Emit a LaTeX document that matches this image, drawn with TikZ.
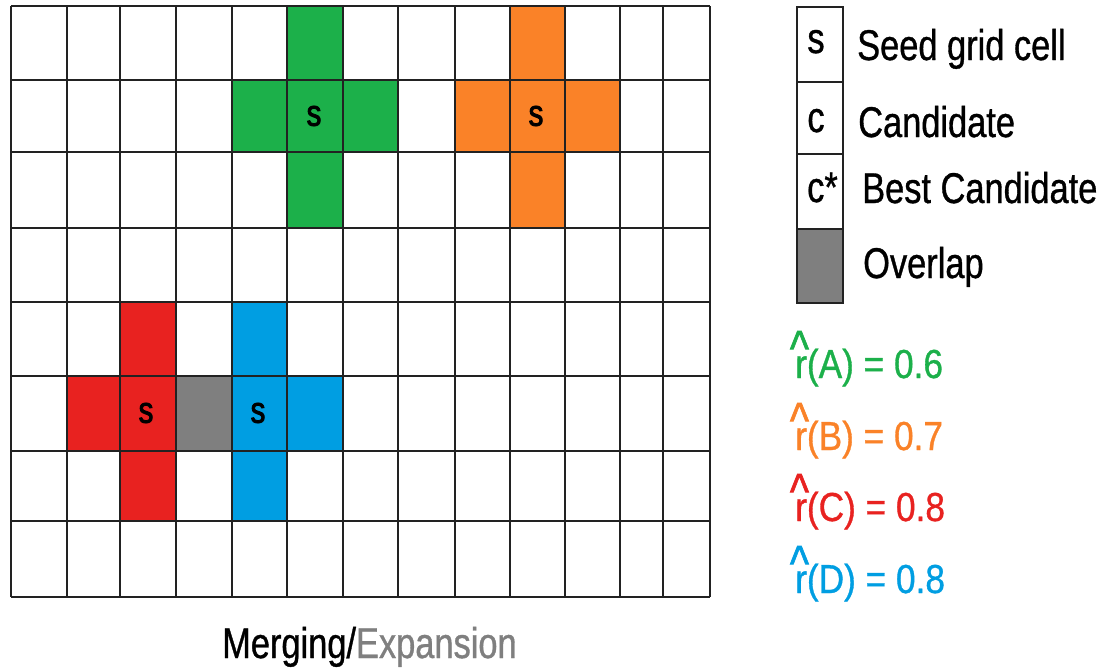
\documentclass[tikz,border=0pt]{standalone}
\usepackage{fontspec}
\usepackage{graphicx}
\setmainfont{Liberation Sans}[FakeStretch=0.8, FakeBold=0.8]
\newfontfamily\seedfont{Liberation Sans}[FakeStretch=0.8, FakeBold=2.2]
\newfontfamily\scorefont{Liberation Sans}[FakeStretch=0.87, FakeBold=0.8]
\newfontfamily\hatfont{Liberation Sans}[FakeBold=1.5]

\definecolor{regA}{HTML}{1CB04A}
\definecolor{regB}{HTML}{FA8228}
\definecolor{regC}{HTML}{E82220}
\definecolor{regD}{HTML}{009EE2}
\definecolor{overlapgrey}{HTML}{7F7F7F}
\definecolor{gridline}{HTML}{222222}

% r with a hat placed above it
\newcommand\rhat{\rlap{\makebox[\fontcharwd\font`r][c]{\kern-0.08em\raisebox{0.3em}{\scalebox{1.0}[1.25]{\hatfont\char"5E}}}}r}

\tikzset{
  gridln/.style={draw=gridline, line width=1.3pt},
  legbox/.style={draw=gridline, line width=1.3pt},
  celltxt/.style={inner sep=0pt, font=\seedfont\fontsize{37}{42}\selectfont},
  legtxt/.style={inner sep=0pt, anchor=base west, font=\fontsize{43}{48}\selectfont},
  scoretxt/.style={inner sep=0pt, anchor=base west, font=\scorefont\fontsize{40.5}{46}\selectfont},
}

\begin{document}
\begin{tikzpicture}[x=1pt,y=-1pt]
\useasboundingbox (0,0) rectangle (1102,667);
\fill[white] (0,0) rectangle (1102,667);

% region A (green)
\fill[regA] (287,6) rectangle (343,228);
\fill[regA] (232,80) rectangle (398,152);
% region B (orange)
\fill[regB] (510,6) rectangle (565,228);
\fill[regB] (455,80) rectangle (620,152);
% region C (red)
\fill[regC] (120,302) rectangle (176,521);
\fill[regC] (67,376) rectangle (176,451);
% overlapping cell
\fill[overlapgrey] (176,376) rectangle (232,451);
% region D (blue)
\fill[regD] (232,302) rectangle (287,521);
\fill[regD] (232,376) rectangle (343,451);

% grid
\foreach \gx in {11,67,120,176,232,287,343,398,455,510,565,620,663,710}
  \draw[gridln] (\gx,6) -- (\gx,597);
\foreach \gy in {6,80,152,228,302,376,451,521,597}
  \draw[gridln] (11,\gy) -- (710,\gy);

% seed labels
\node[celltxt] (seedA) at (314,116) {s};
\node[celltxt] (seedB) at (536,116) {s};
\node[celltxt] (seedC) at (146,413) {s};
\node[celltxt] (seedD) at (258,413) {s};

% legend
\draw[legbox] (797,7) rectangle (843,82);
\draw[legbox] (797,82) rectangle (843,154);
\draw[legbox] (797,154) rectangle (843,229);
\draw[legbox, fill=overlapgrey] (797,229) rectangle (843,303);

\node[legtxt, anchor=base] (legs) at (816,53) {s};
\node[legtxt, anchor=base] (legc) at (816,132) {c};
\node[legtxt, anchor=base west] (legcs) at (807,202) {c*};

\node[legtxt] (seedlab) at (857,60) {Seed grid cell};
\node[legtxt] (candlab) at (858,137) {Candidate};
\node[legtxt] (bestlab) at (862,203) {Best Candidate};
\node[legtxt] (overlab) at (863,278) {Overlap};

% region scores
\node[scoretxt, text=regA] (scoreA) at (795,378) {\rhat(A) = 0.6};
\node[scoretxt, text=regB] (scoreB) at (795,450) {\rhat(B) = 0.7};
\node[scoretxt, text=regC] (scoreC) at (795,521) {\rhat(C) = 0.8};
\node[scoretxt, text=regD] (scoreD) at (795,593) {\rhat(D) = 0.8};

% caption
\node[legtxt] (caption) at (222,658) {Merging/\textcolor{overlapgrey}{Expansion}};
\end{tikzpicture}
\end{document}
